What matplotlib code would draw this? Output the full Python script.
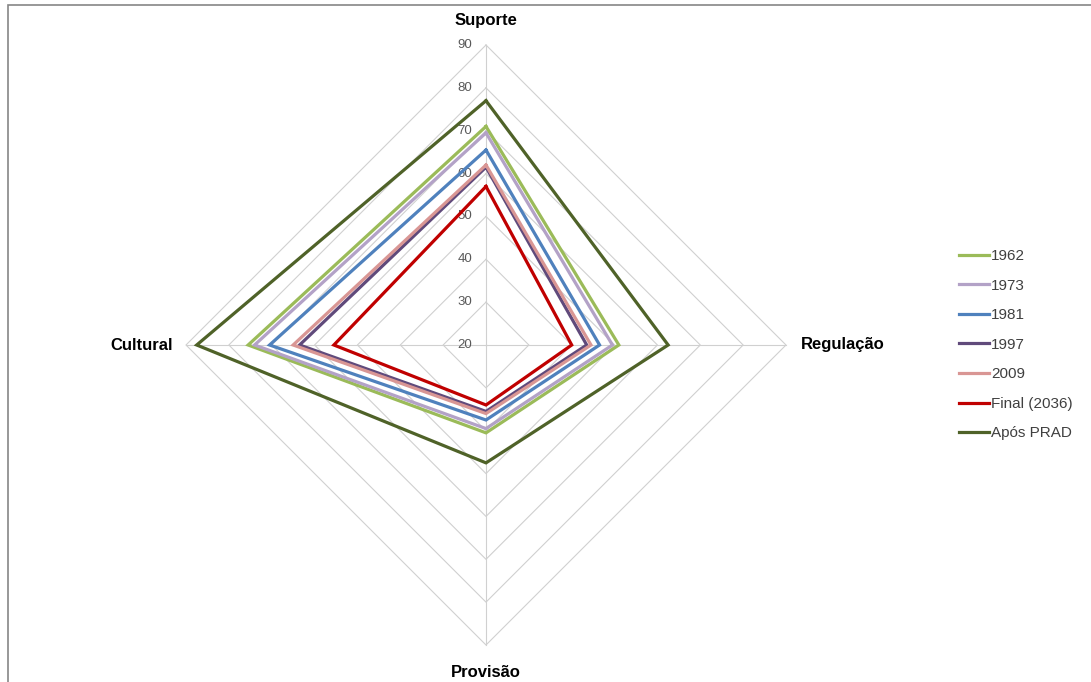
import matplotlib.pyplot as plt
import numpy as np
from matplotlib.patches import Rectangle

plt.rcParams['font.family'] = ['Liberation Sans', 'DejaVu Sans']

categories = ['Suporte', 'Regulação', 'Provisão', 'Cultural']
series_names = ['1962', '1973', '1981', '1997', '2009', 'Final (2036)', 'Após PRAD']
s1962 = [71, 51, 40.5, 75.5]
s1973 = [69.5, 49.5, 39.5, 74]
s1981 = [65.5, 46.5, 37.5, 70.5]
s1997 = [61.5, 43.5, 35.5, 63.5]
s2009 = [62, 44.5, 36, 65]
s_final = [57, 40, 34, 55.5]
s_apos = [77, 62.5, 47.5, 87.5]
ring_values = [20, 30, 40, 50, 60, 70, 80, 90]

series = [s1962, s1973, s1981, s1997, s2009, s_final, s_apos]
colors = ['#9BBB59', '#B3A2C7', '#4F81BD', '#604A7B', '#D99694', '#C00000', '#4F6228']

W, H = 1091, 682
fig = plt.figure(figsize=(W / 100, H / 100), dpi=100)
cx, cy, rad = 486, 345, 300
ax = fig.add_axes([(cx - rad) / W, (H - cy - rad) / H, 2 * rad / W, 2 * rad / H],
                  projection='polar')
ax.set_theta_zero_location('N')
ax.set_theta_direction(-1)
ax.set_rlim(ring_values[0], ring_values[-1])
ax.grid(False)
ax.set_xticks([])
ax.set_yticks([])
ax.spines['polar'].set_visible(False)
ax.patch.set_visible(False)

angles = np.deg2rad([0, 90, 180, 270])
closed = np.append(angles, angles[0])

# diamond rings and spokes
grid_c = '#D0D0D0'
for r in ring_values[1:]:
    ax.plot(closed, [r] * 5, color=grid_c, lw=0.8, clip_on=False, zorder=1)
for a in angles:
    ax.plot([a, a], [ring_values[0], ring_values[-1]], color=grid_c, lw=0.8,
            clip_on=False, zorder=1)

for r in ring_values:
    ax.annotate(str(r), (0, r), xytext=(-10, 0), textcoords='offset points',
                ha='right', va='center', fontsize=9.5, color='#595959')

for name, vals, c in zip(series_names, series, colors):
    ax.plot(closed, vals + vals[:1], color=c, lw=2.3, label=name,
            clip_on=False, zorder=3, solid_joinstyle='miter')

label_offsets = [(0, 18, 'center'), (11, 0, 'left'), (0, -19.5, 'center'), (-9.5, 0, 'right')]
for cat, a, (dx, dy, ha) in zip(categories, angles, label_offsets):
    ax.annotate(cat, (a, ring_values[-1]), xytext=(dx, dy), textcoords='offset points',
                ha=ha, va='center', fontsize=12, fontweight='bold', color='black')

fig.legend(loc='upper left', bbox_to_anchor=(959 / W, 1 - 249 / H), frameon=False,
           fontsize=11, handlelength=1.95, handletextpad=0.15, labelspacing=1.02,
           borderpad=0, borderaxespad=0, labelcolor='#404040')

fig.add_artist(Rectangle((8 / W, -0.5), 2, 0.5 + (H - 5) / H, fill=False,
                         edgecolor='#868686', lw=1.2, transform=fig.transFigure))

fig.savefig('out.png', dpi=100)
